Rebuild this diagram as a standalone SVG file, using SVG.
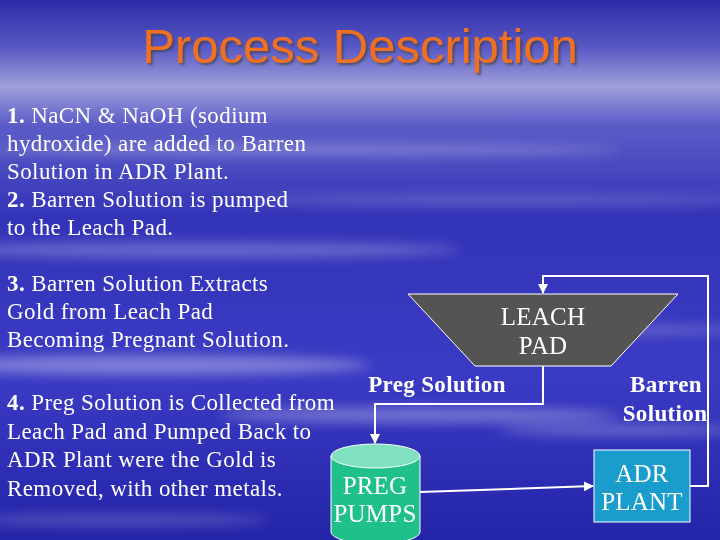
<svg xmlns="http://www.w3.org/2000/svg" width="720" height="540" viewBox="0 0 720 540">
<defs>
<linearGradient id="bg" x1="0" y1="0" x2="0" y2="1">
<stop offset="0" stop-color="#2b2ba8"/>
<stop offset="0.09" stop-color="#5a5ac4"/>
<stop offset="0.16" stop-color="#a0a0dc"/>
<stop offset="0.23" stop-color="#5c5cc8"/>
<stop offset="0.4" stop-color="#3434b8"/>
<stop offset="0.7" stop-color="#3a3ac4"/>
<stop offset="1" stop-color="#2424a8"/>
</linearGradient>
<filter id="blur" x="-20%" y="-50%" width="140%" height="200%"><feGaussianBlur stdDeviation="6"/></filter>
<filter id="sh" x="-5%" y="-20%" width="110%" height="140%"><feDropShadow dx="2" dy="2" stdDeviation="0.8" flood-color="#404040" flood-opacity="0.7"/></filter>
<marker id="ah" viewBox="0 0 10 10" refX="9" refY="5" markerWidth="5" markerHeight="5" orient="auto"><path d="M0,0 L10,5 L0,10 z" fill="#fff"/></marker>
<style>
.body{font-family:"Liberation Serif","Times New Roman",serif;font-size:23px;letter-spacing:0.4px;fill:#fff}
.lbl{font-family:"Liberation Serif","Times New Roman",serif;font-size:25px;letter-spacing:0.2px;fill:#fff;text-anchor:middle}
.lb{font-family:"Liberation Serif","Times New Roman",serif;font-size:23px;letter-spacing:0.35px;fill:#fff;text-anchor:middle;font-weight:bold}
.b{font-weight:bold}
.conn{fill:none;stroke:#fff;stroke-width:2}
</style>
</defs>
<rect width="720" height="540" fill="url(#bg)"/>
<g filter="url(#blur)" fill="#fff">
<ellipse cx="300" cy="150" rx="320" ry="6" opacity="0.25"/>
<ellipse cx="500" cy="200" rx="250" ry="5" opacity="0.2"/>
<ellipse cx="200" cy="250" rx="260" ry="8" opacity="0.25"/>
<ellipse cx="150" cy="365" rx="220" ry="10" opacity="0.35"/>
<ellipse cx="420" cy="415" rx="200" ry="8" opacity="0.3"/>
<ellipse cx="620" cy="430" rx="120" ry="6" opacity="0.25"/>
<ellipse cx="600" cy="330" rx="150" ry="6" opacity="0.2"/>
<ellipse cx="120" cy="520" rx="150" ry="6" opacity="0.2"/>
</g>
<text x="360" y="63" text-anchor="middle" font-family="'Liberation Sans',Arial,sans-serif" font-size="49" fill="#f07020" filter="url(#sh)">Process Description</text>
<g id="text1" class="body">
<text x="7" y="123"><tspan class="b">1.</tspan>  NaCN &amp; NaOH (sodium</text>
<text x="7" y="151">hydroxide) are added to Barren</text>
<text x="7" y="179">Solution in ADR Plant.</text>
<text x="7" y="207"><tspan class="b">2.</tspan>  Barren Solution is pumped</text>
<text x="7" y="235">to the Leach Pad.</text>
</g>
<g id="text3" class="body">
<text x="7" y="291"><tspan class="b">3.</tspan>  Barren Solution Extracts</text>
<text x="7" y="319">Gold from Leach Pad</text>
<text x="7" y="347">Becoming Pregnant Solution.</text>
</g>
<g id="text4" class="body">
<text x="7" y="410"><tspan class="b">4.</tspan>  Preg Solution is Collected from</text>
<text x="7" y="439">Leach Pad and Pumped Back to</text>
<text x="7" y="467">ADR Plant were the Gold is</text>
<text x="7" y="496">Removed, with other metals.</text>
</g>
<g id="connectors">
<polyline class="conn" points="690,486 708,486 708,276 543,276 543,293" marker-end="url(#ah)"/>
<polyline class="conn" points="543,366 543,404 375,404 375,443" marker-end="url(#ah)"/>
<line class="conn" x1="420" y1="492" x2="593" y2="486" marker-end="url(#ah)"/>
<text class="lb" x="437" y="392">Preg Solution</text>
<text class="lb" x="666" y="392">Barren</text>
<text class="lb" x="665" y="421">Solution</text>
</g>
<g id="leach-pad">
<polygon points="408,294 678,294 611,366 475,366" fill="#545454" stroke="#fff" stroke-width="1"/>
<text class="lbl" x="543" y="325">LEACH</text>
<text class="lbl" x="543" y="354">PAD</text>
</g>
<g id="preg-pumps">
<path d="M331,456 L331,532 A44.5,12 0 0 0 420,532 L420,456 Z" fill="#20c08c" stroke="#fff" stroke-width="1"/>
<ellipse cx="375.5" cy="456" rx="44.5" ry="12" fill="#80e0c0" stroke="#fff" stroke-width="1"/>
<text class="lbl" x="375" y="494">PREG</text>
<text class="lbl" x="375" y="522">PUMPS</text>
</g>
<g id="adr-plant">
<rect x="594" y="450" width="96" height="72" fill="#1a9ccc" stroke="#fff" stroke-width="1"/>
<text class="lbl" x="642" y="482">ADR</text>
<text class="lbl" x="642" y="510">PLANT</text>
</g>
</svg>
